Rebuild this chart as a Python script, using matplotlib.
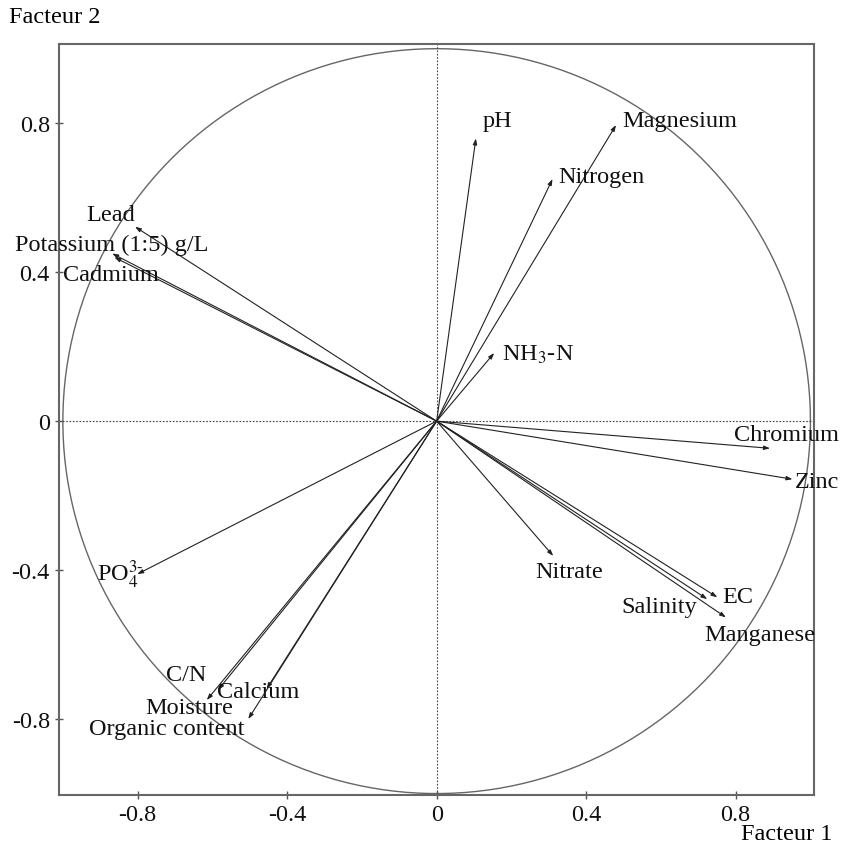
import numpy as np
import matplotlib
matplotlib.use("Agg")
import matplotlib.pyplot as plt

plt.rcParams['font.family'] = ['Liberation Serif', 'DejaVu Serif']
plt.rcParams['mathtext.fontset'] = 'stix'

# variable loadings (Facteur 1, Facteur 2)
names = ["pH", "Magnesium", "Nitrogen", "NH$_3$-N", "Chromium", "Zinc", "Nitrate",
         "EC", "Salinity", "Manganese", "Lead", "Potassium (1:5) g/L", "Cadmium",
         "PO$_4^{3\\text{-}}$", "C/N", "Calcium", "Moisture", "Organic content"]
f1 = [0.105, 0.480, 0.310, 0.154, 0.892, 0.952, 0.312,
      0.751, 0.724, 0.774, -0.807, -0.868, -0.862,
      -0.801, -0.585, -0.455, -0.615, -0.504]
f2 = [0.759, 0.795, 0.650, 0.183, -0.073, -0.156, -0.362,
      -0.473, -0.478, -0.527, 0.522, 0.450, 0.440,
      -0.411, -0.722, -0.719, -0.749, -0.800]

# label anchor points (data coords) and alignment
lab_x = [0.122, 0.496, 0.325, 0.175, 0.796, 0.958, 0.263,
         0.763, 0.697, 0.716, -0.938, -1.128, -1.0,
         -0.909, -0.724, -0.588, -0.780, -0.930]
lab_y = [0.806, 0.808, 0.658, 0.180, -0.035, -0.161, -0.405,
         -0.470, -0.497, -0.574, 0.556, 0.475, 0.395,
         -0.411, -0.679, -0.725, -0.770, -0.824]
lab_ha = ["left"] * 18
lab_ha[8] = "right"

fig = plt.figure(figsize=(8.51, 8.53), dpi=100)
ax = fig.add_axes([0.0699, 0.0672, 0.8866, 0.8798])
ax.set_xlim(-1.009, 1.0095)
ax.set_ylim(-1.003, 1.012)

th = np.linspace(0, 2 * np.pi, 400)
ax.plot(np.cos(th), np.sin(th), color='#666666', lw=1.0)
ax.axhline(0, color='#444444', lw=0.8, ls=(0, (1.5, 1.5)))
ax.axvline(0, color='#444444', lw=0.8, ls=(0, (1.5, 1.5)))

for i in range(len(names)):
    ax.annotate("", xy=(f1[i], f2[i]), xytext=(0, 0),
                arrowprops=dict(arrowstyle='-|>,head_length=0.35,head_width=0.12',
                                color='#222222', lw=0.8, shrinkA=0, shrinkB=0))
    ax.text(lab_x[i], lab_y[i], names[i], ha=lab_ha[i], va='center',
            fontsize=17.5, color='#111111')

ax.set_xticks([-0.8, -0.4, 0, 0.4, 0.8])
ax.set_xticklabels(["-0.8", "-0.4", "0", "0.4", "0.8"])
ax.set_yticks([-0.8, -0.4, 0, 0.4, 0.8])
ax.set_yticklabels(["-0.8", "-0.4", "0", "0.4", "0.8"])
ax.tick_params(direction='inout', length=6, width=1, colors='#555555',
               labelcolor='#111111', labelsize=17.5, pad=4)
for s in ax.spines.values():
    s.set_color('#666666')
    s.set_linewidth(1.5)

fig.text(0.011, 0.979, "Facteur 2", fontsize=17.5, ha='left', va='center')
fig.text(0.978, 0.022, "Facteur 1", fontsize=17.5, ha='right', va='center')

fig.savefig("out.png", dpi=100)
